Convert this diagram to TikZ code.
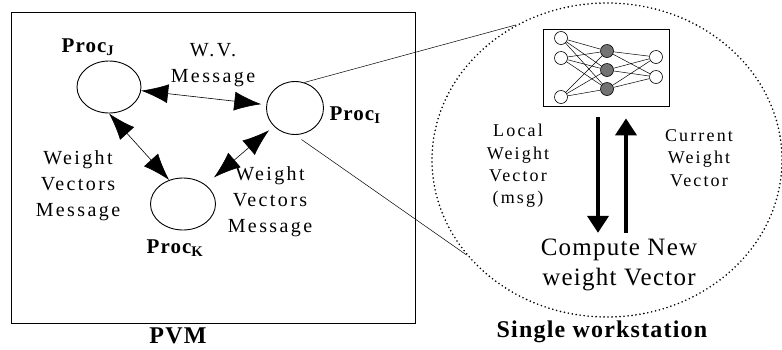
\documentclass[tikz,border=0pt]{standalone}
\usepackage{fontspec}
\setmainfont{Liberation Serif}
\newfontfamily\wide[LetterSpace=12]{Liberation Serif}
\newfontfamily\tight[LetterSpace=5]{Liberation Serif}
\usetikzlibrary{shapes.geometric,arrows.meta,positioning}

\tikzstyle{proc}=[draw, ellipse, line width=.9pt, inner sep=0pt, minimum width=64pt, minimum height=52pt]
\tikzstyle{proc name}=[inner sep=0pt, font=\fontsize{21}{24}\selectfont\tight\bfseries]
\tikzstyle{msg}=[inner sep=0pt, align=center, font=\fontsize{20}{26}\selectfont\wide]
\tikzstyle{small msg}=[inner sep=0pt, align=center, font=\fontsize{18}{22.3}\selectfont\wide]
\tikzstyle{caption}=[inner sep=0pt, font=\fontsize{24}{28}\selectfont\tight\bfseries]
\tikzstyle{link}=[{Latex[length=27pt,width=19pt]}-{Latex[length=27pt,width=19pt]}, line width=.6pt]
\tikzstyle{zoom}=[line width=.5pt]
\tikzstyle{dotted ring}=[draw, ellipse, line width=1.8pt, line cap=round, dash pattern=on 0pt off 4pt]
\tikzstyle{neuron}=[draw, circle, inner sep=0pt, minimum size=13pt, line width=.6pt, fill=white]
\tikzstyle{hidden}=[neuron, fill=black!55]
\tikzstyle{synapse}=[line width=.5pt]
\tikzstyle{flow}=[-{Triangle[length=17pt,width=21pt]}, line width=4pt]

\begin{document}
\begin{tikzpicture}[x=1pt,y=-1pt]
    \useasboundingbox (0,0) rectangle (782,349);

    % PVM
    \draw[line width=.8pt] (11,12) rectangle (415,323);
    \draw (178,336) node[caption] (pvm) {PVM};

    % Processes
    \draw (109,87) node[proc] (procJ) {};
    \draw (295,108) node[proc, minimum width=57pt, minimum height=53pt] (procI) {};
    \draw (183,204) node[proc, minimum width=65pt] (procK) {};
    \draw (88,47) node[proc name] (nameJ) {Proc\textsubscript{J}};
    \draw (355,115) node[proc name] (nameI) {Proc\textsubscript{I}};
    \draw (175,248) node[proc name] (nameK) {Proc\textsubscript{K}};

    % Messages
    \draw[link, shorten >=5pt] (procJ) -- (procI);
    \draw[link] (procJ.south) -- (procK.120);
    \draw[link, shorten <=6pt, shorten >=11pt] (procI) -- (procK);
    \draw (213,65) node[msg] (wv) {W.V.\\Message};
    \draw (78,186) node[msg] (msgJK) {Weight\\Vectors\\Message};
    \draw (270,202) node[msg] (msgIK) {Weight\\Vectors\\Message};

    % Workstation
    \draw (607,160) node[dotted ring, minimum width=350pt, minimum height=314pt] (ws) {};
    \draw (602,332) node[caption] (single) {Single workstation};
    \draw[zoom] (procI.70) -- (ws.124);
    \draw[zoom, shorten <=8pt] (procI.south) -- (ws.214);

    % Network
    \draw (606,67.5) node[draw, line width=.8pt, minimum width=126pt, minimum height=77pt] (net) {};
    \draw (561,38) node[neuron] (in1) {};
    \draw (561,58) node[neuron] (in2) {};
    \draw (561,97) node[neuron] (in3) {};
    \draw (607,51) node[hidden] (hid1) {};
    \draw (607,70) node[hidden] (hid2) {};
    \draw (607,89) node[hidden] (hid3) {};
    \draw (656,57) node[neuron] (out1) {};
    \draw (656,77) node[neuron] (out2) {};
    \foreach \i in {1,2,3}
        \foreach \h in {1,2,3}
            \draw[synapse] (in\i) -- (hid\h);
    \foreach \h in {1,2,3}
        \foreach \o in {1,2}
            \draw[synapse] (hid\h) -- (out\o);

    % Update loop
    \draw (619,265) node[inner sep=0pt, align=center, font=\fontsize{25}{30}\selectfont\tight] (compute) {Compute New\\weight Vector};
    \draw (518,166) node[small msg] (local) {Local\\Weight\\Vector\\(msg)};
    \draw (699,158) node[small msg] (current) {Current\\Weight\\Vector};
    \draw[flow, shorten <=11pt, shorten >=6pt] ([xshift=-8pt]net.south) -- ([xshift=-8pt]net.south |- compute.north);
    \draw[flow, shorten <=6pt, shorten >=12pt] ([xshift=20pt]net.south |- compute.north) -- ([xshift=20pt]net.south);
\end{tikzpicture}
\end{document}
